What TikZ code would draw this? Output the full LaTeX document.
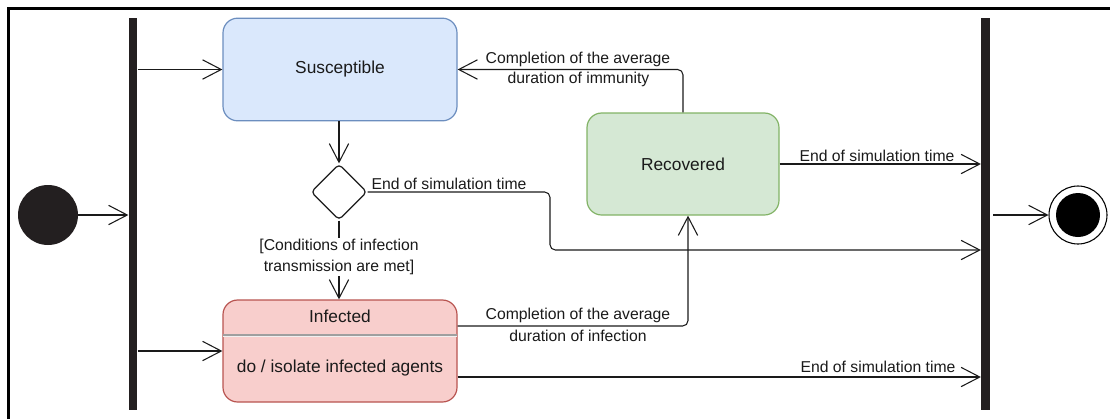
\documentclass[tikz,border=0pt]{standalone}
\usepackage{fontspec}
\setmainfont{Liberation Sans}
\usetikzlibrary{arrows.meta,shapes.geometric,calc}

\definecolor{ink}{HTML}{1A1A1A}
\definecolor{barc}{HTML}{231F20}
\definecolor{susfill}{HTML}{DAE8FC}
\definecolor{susline}{HTML}{6C8EBF}
\definecolor{inffill}{HTML}{F8CECC}
\definecolor{infline}{HTML}{B85450}
\definecolor{recfill}{HTML}{D5E8D4}
\definecolor{recline}{HTML}{82B366}

\newcommand{\statefont}{\fontsize{13}{15.6}\selectfont}
\newcommand{\edgefont}{\fontsize{11.8}{15.2}\selectfont}

\begin{document}
\begin{tikzpicture}[x=0.75pt,y=-0.75pt,
  state/.style={draw, line width=0.9pt, rounded corners=11pt,
    minimum width=175.5pt, minimum height=77pt, inner sep=0pt,
    font=\statefont, text=ink},
  syncbar/.style={fill=barc, draw=none, minimum width=6.5pt,
    minimum height=294pt, inner sep=0pt},
  flow/.style={draw=ink, line width=0.8pt,
    -{Straight Barb[length=14pt,width=14.5pt,line width=0.8pt]}},
  lbl/.style={font=\edgefont, text=ink, inner sep=1pt, align=center},
  roundbend/.style={rounded corners=4pt}]

  \useasboundingbox (0,0) rectangle (1110,419);
  % frame edges
  \draw[line width=1.8pt, black] (8.5,419) -- (8.5,8.5) -- (1110,8.5);

  % fork / join bars
  \node[syncbar] (lbar) at (133,214) {};
  \node[syncbar] (rbar) at (985.5,214) {};

  % initial and final states
  \node[circle, fill=barc, minimum size=45pt, inner sep=0pt] (init) at (48,215) {};
  \node[circle, draw=black, line width=0.8pt, fill=white, minimum size=43.5pt, inner sep=0pt] (fin) at (1078,215) {};
  \node[circle, fill=black, minimum size=33pt, inner sep=0pt] (finc) at (fin) {};

  % states
  \node[state, fill=susfill, draw=susline] (sus) at (340,69.5) {\raisebox{-1pt}{Susceptible}};
  \node[state, fill=recfill, draw=recline, minimum width=144pt, minimum height=76.5pt] (rec) at (683,164) {Recovered};
  \node[state, fill=inffill, draw=infline, minimum height=76.5pt] (inf) at (340,351) {};
  \draw[gray!75, line width=0.9pt] ($(inf.north west)+(0.6,35.5)$) -- ($(inf.north east)+(-0.6,35.5)$);
  \draw[white!88!gray, line width=0.9pt] ($(inf.north west)+(0.6,37)$) -- ($(inf.north east)+(-0.6,37)$);
  \node[font=\statefont, text=ink] (inftitle) at ($(inf.north)+(0,16.5)$) {Infected};
  \node[font=\statefont, text=ink] (infdo) at ($(inf.north)+(0,68.5)$) {do / isolate infected agents};

  % decision
  \node[diamond, draw=ink, line width=0.9pt, fill=white, minimum width=42pt,
    minimum height=42pt, inner sep=0pt, rounded corners=3pt] (dia) at (339,192) {};

  % transitions
  \draw[flow] (init) -- (init -| lbar.west);
  \draw[flow] (sus.west -| lbar.east) -- (sus.west);
  \draw[flow] (inf.west -| lbar.east) -- (inf.west);
  \draw[flow] (sus.south -| dia.north) -- (dia.north);
  \draw[flow] (dia.south) -- node[lbl, fill=white, pos=0.46] (cond)
    {[Conditions of infection\\transmission are met]} (dia.south |- inf.north);

  \coordinate (k1) at (550,250);
  \draw[flow, roundbend] (dia.east) -| (k1) -- (k1 -| rbar.west);
  \node[lbl] (l1) at (449,184) {End of simulation time};

  \draw[flow] (rec.east) -- (rec.east -| rbar.west);
  \node[lbl] (l2) at (877,155.5) {End of simulation time};

  \coordinate (recin) at ($(rec.south)+(5,0)$);
  \coordinate (infout) at ($(inf.east)+(0,-25)$);
  \draw[flow, roundbend] (infout) -| (recin);
  \node[lbl] (l3a) at (578,315) {Completion of the average};
  \node[lbl, fill=white, inner ysep=1.5pt] (l3b) at (578,335.5) {duration of infection};

  \coordinate (infend) at ($(inf.east)+(0,26)$);
  \draw[flow] (infend) -- (infend -| rbar.west);
  \node[lbl] (l4) at (878,367) {End of simulation time};

  \coordinate (recout) at ($(rec.north)+(0,0)$);
  \draw[flow, roundbend] (recout) |- (sus.east);
  \node[lbl] (l5a) at (578,59.5) {Completion of the average};
  \node[lbl] (l5b) at (578.5,79.5) {duration of immunity};

  \draw[flow] ($(rbar.east |- fin)+(3,0)$) -- (fin.west);
\end{tikzpicture}
\end{document}
